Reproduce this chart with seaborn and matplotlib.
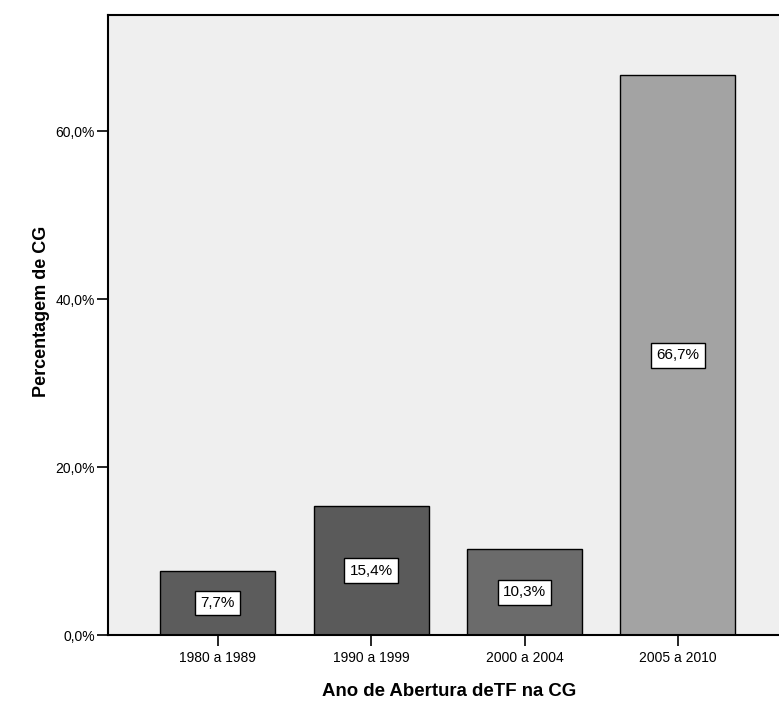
import matplotlib
matplotlib.use("Agg")
import matplotlib.pyplot as plt
import seaborn as sns
import pandas as pd

# Share of CG by year the TF was opened
categories = ["1980 a 1989", "1990 a 1999", "2000 a 2004", "2005 a 2010"]
percentages = [7.7, 15.4, 10.3, 66.7]
bar_colors = ["#5c5c5c", "#5a5a5a", "#6b6b6b", "#a3a3a3"]
y_ticks = [0, 20, 40, 60]
y_tick_labels = ["0,0%", "20,0%", "40,0%", "60,0%"]

sns.set_style("white")
plt.rcParams["font.family"] = ["Liberation Sans", "DejaVu Sans"]
plt.rcParams["text.color"] = "black"
plt.rcParams["axes.labelcolor"] = "black"
plt.rcParams["xtick.color"] = "black"
plt.rcParams["ytick.color"] = "black"

df = pd.DataFrame({"ano": categories, "pct": percentages})

fig = plt.figure(figsize=(7.79, 7.13), dpi=100)
ax = fig.add_axes([0.138, 0.1087, 0.862, 0.8696])
ax.set_facecolor("#efefef")

sns.barplot(data=df, x="ano", y="pct", hue="ano", palette=bar_colors,
            width=0.75, edgecolor="black", linewidth=1.0, legend=False,
            saturation=1, ax=ax)

for cont, v in zip(ax.containers, percentages):
    ax.bar_label(cont, labels=[f"{v:.1f}%".replace(".", ",")],
                 label_type="center", fontsize=11, color="black",
                 bbox=dict(boxstyle="square,pad=0.35", facecolor="white",
                           edgecolor="black", linewidth=1.0))

ax.set_xlim(-0.72, 3.66)
ax.set_ylim(0, 73.8)
ax.set_yticks(y_ticks)
ax.set_yticklabels(y_tick_labels)

ax.tick_params(axis="both", which="major", direction="out", length=8,
               width=1.2, colors="black", labelsize=10, pad=1,
               left=True, bottom=True)
ax.tick_params(axis="x", pad=3)

for side in ["left", "top", "bottom"]:
    ax.spines[side].set_visible(True)
    ax.spines[side].set_color("black")
    ax.spines[side].set_linewidth(1.5)
ax.spines["right"].set_visible(False)

ax.set_xlabel("Ano de Abertura deTF na CG", fontsize=13.4, fontweight="bold",
              color="black")
ax.xaxis.set_label_coords(0.509, -0.076)
ax.set_ylabel("Percentagem de CG", fontsize=13, fontweight="bold",
              color="black")
ax.yaxis.set_label_coords(-0.086, 0.522)

fig.savefig("out.png", dpi=100, facecolor="white")
